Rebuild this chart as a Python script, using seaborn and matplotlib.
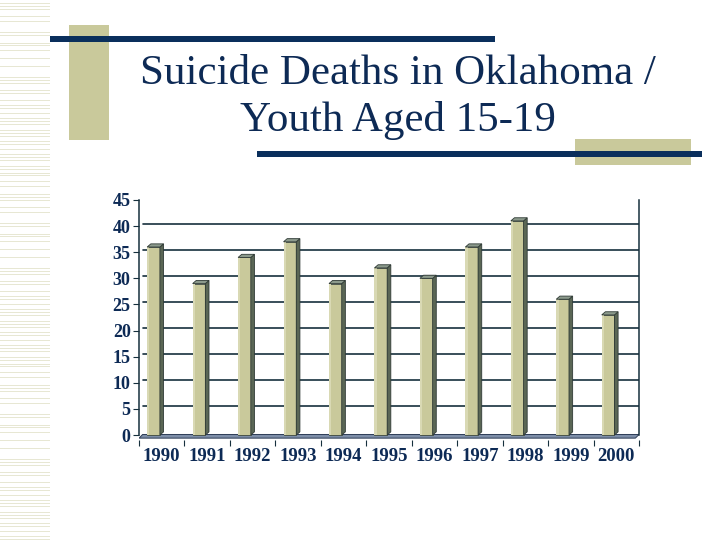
import matplotlib
matplotlib.use("Agg")
import matplotlib.pyplot as plt
from matplotlib.patches import Rectangle, Polygon
import seaborn as sns

# chart data
years = ["1990", "1991", "1992", "1993", "1994", "1995",
         "1996", "1997", "1998", "1999", "2000"]
deaths = [36, 29, 34, 37, 29, 32, 30, 36, 41, 26, 23]
y_ticks = [0, 5, 10, 15, 20, 25, 30, 35, 40, 45]
title_lines = ["Suicide Deaths in Oklahoma /", "Youth Aged 15-19"]

NAVY = "#0a2f5c"
KHAKI = "#c9c99b"
TEXT = "#0d2a55"
W, H = 720, 540

sns.set_style("white")
plt.rcParams["font.family"] = ["Liberation Serif", "DejaVu Serif"]

fig = plt.figure(figsize=(7.2, 5.4), dpi=100)
fig.patch.set_facecolor("white")


def px_rect(x0, y0, x1, y1, color, z=1):
    # rectangle given in pixel coords (top-left origin)
    fig.patches.append(Rectangle((x0 / W, 1 - y1 / H), (x1 - x0) / W, (y1 - y0) / H,
                                 transform=fig.transFigure, color=color, zorder=z, lw=0))


# left striped margin
gaps = [3, 3, 7, 5, 11, 3, 8, 2, 5, 8, 8, 11, 3, 3, 7, 3, 7, 5, 3, 5,
        5, 3, 3, 6, 3, 3, 5, 3, 5, 5, 3, 3, 6, 3, 4, 2, 6, 5, 8]
yy, k = 3, 0
while yy < H:
    px_rect(0, yy, 50, yy + 1.4, "#e7e7d3", z=0)
    yy += gaps[k % len(gaps)]
    k += 1

# title decorations
px_rect(69, 25, 109, 140, KHAKI, z=1)
px_rect(50, 36, 495, 42, NAVY, z=2)
px_rect(575, 139, 691, 165, KHAKI, z=1)
px_rect(257, 151, 702, 157, NAVY, z=2)

fig.text(398 / W, 1 - 84 / H, title_lines[0], ha="center", va="baseline",
         fontsize=31, color=TEXT)
fig.text(398 / W, 1 - 131 / H, title_lines[1], ha="center", va="baseline",
         fontsize=31, color=TEXT)

# chart
ymin, ymax = -0.9, 45.2
px_per = (435 - 200) / 45.0
top_px = 435 - ymax * px_per
bot_px = 435 - ymin * px_per
ax = fig.add_axes([139 / W, 1 - bot_px / H, 500 / W, (bot_px - top_px) / H])
ax.set_facecolor("none")

sns.barplot(x=years, y=deaths, width=0.28, color=KHAKI, saturation=1,
            edgecolor="#3a463d", linewidth=0.6, ax=ax, zorder=3)
bars = [p for p in ax.patches if isinstance(p, Rectangle)]

ax.set_xlim(-0.5, 10.5)
ax.set_ylim(ymin, ymax)

# gridlines
for v in y_ticks[1:]:
    ax.plot([-0.42, 10.5], [v + 0.5, v + 0.5], color="#16303d", lw=1.2, zorder=1)

# floor
ax.add_patch(Polygon([(-0.5, -0.6), (10.42, -0.6), (10.5, 0.1), (-0.42, 0.1)],
                     closed=True, facecolor="#7d8ea8", edgecolor="#2b3b55",
                     lw=0.7, zorder=2))

# 3d faces of the bars
dx, dy = 0.08, 0.6
for p in bars:
    p.set_x(p.get_x() - 0.18)
    x0, w, h = p.get_x(), p.get_width(), p.get_height()
    x1 = x0 + w
    ax.add_patch(Polygon([(x1, 0), (x1 + dx, dy), (x1 + dx, h + dy), (x1, h)],
                         closed=True, facecolor="#5a6655", edgecolor="#2f3a35",
                         lw=0.6, zorder=4))
    ax.add_patch(Polygon([(x0, h), (x0 + dx, h + dy), (x1 + dx, h + dy), (x1, h)],
                         closed=True, facecolor="#8c9a8c", edgecolor="#2f3a35",
                         lw=0.6, zorder=4))
    ax.add_patch(Rectangle((x0, 0), w * 0.18, h, facecolor="#d9d9b4",
                           lw=0, zorder=3.5))

for s in ["top", "bottom"]:
    ax.spines[s].set_visible(False)
ax.spines["left"].set_bounds(0, 45)
ax.spines["right"].set_bounds(0, 45)
for s in ["left", "right"]:
    ax.spines[s].set_color("#16303d")
    ax.spines[s].set_linewidth(1.1)

ax.set_yticks(y_ticks)
ax.set_yticklabels([str(v) for v in y_ticks], fontsize=13,
                   fontweight="bold", color=TEXT)
ax.tick_params(axis="y", direction="out", length=4, width=0.8,
               color="#16303d", pad=2, left=True)
ax.set_xticks(range(len(years)))
ax.set_xticklabels(years, fontsize=13.5, fontweight="bold", color=TEXT)
ax.set_xticks([i + 0.5 for i in range(-1, 11)], minor=True)
ax.tick_params(axis="x", which="major", length=0, pad=6)
ax.tick_params(axis="x", which="minor", direction="out", length=4,
               width=0.8, color="#16303d", bottom=True)
ax.set_xlabel("")
ax.set_ylabel("")

fig.savefig("out.png", dpi=100)
